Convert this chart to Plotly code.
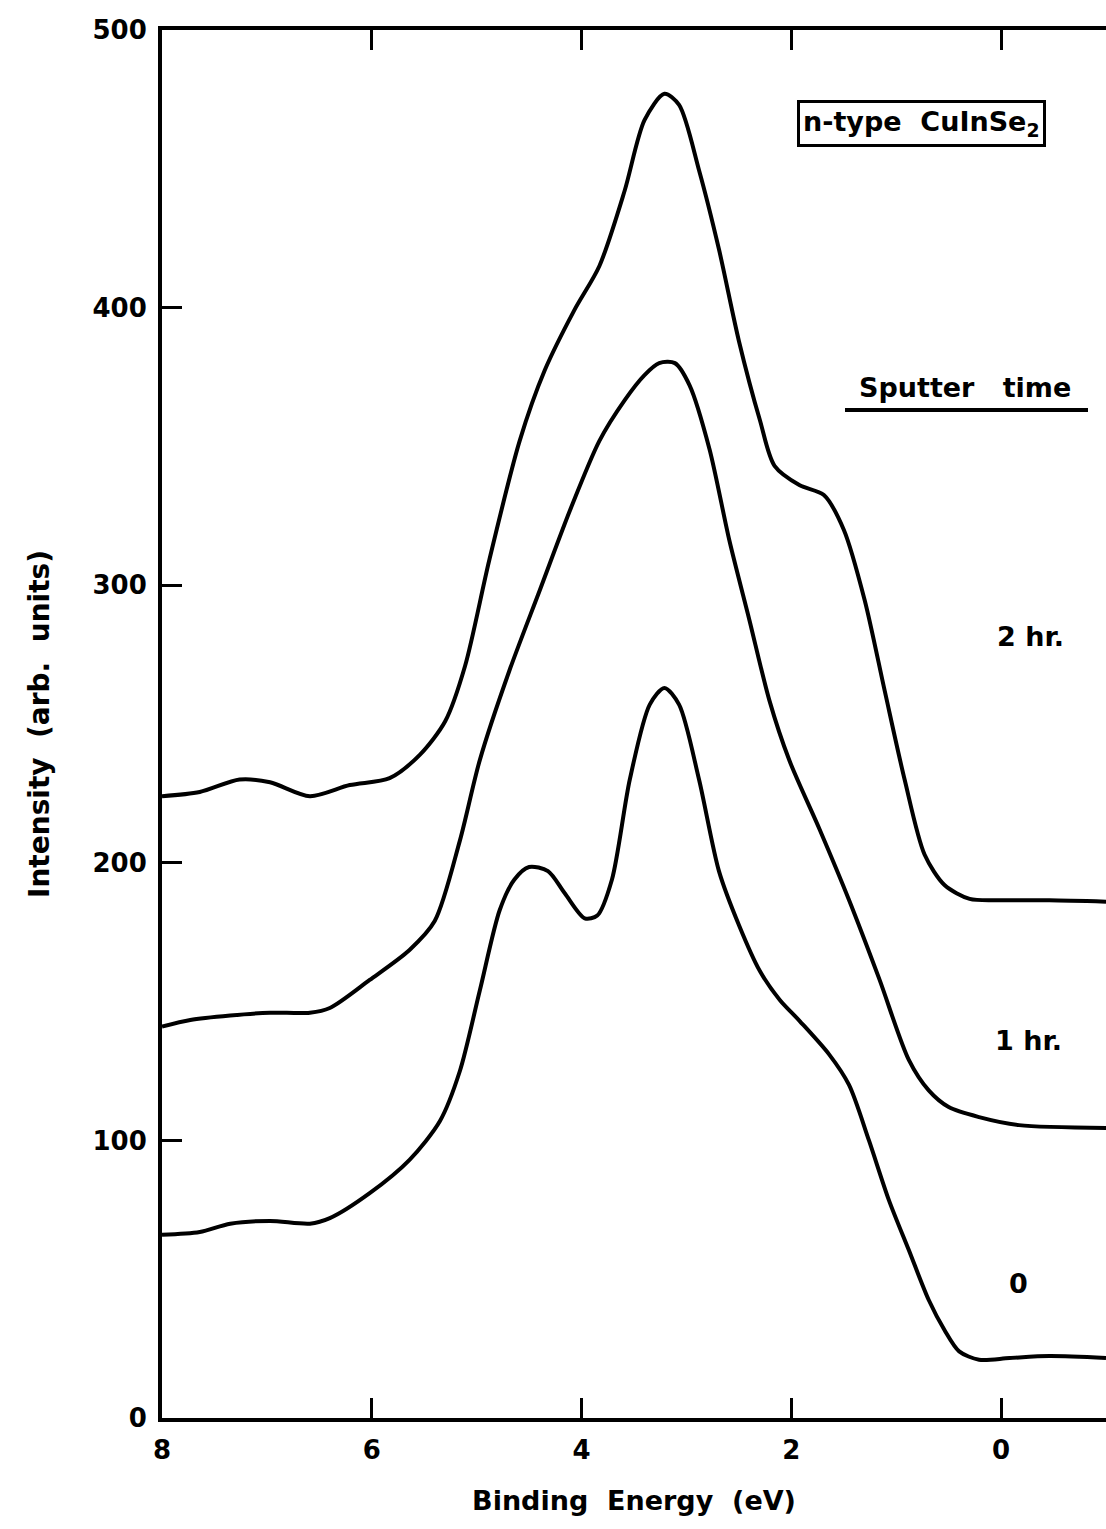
import plotly.graph_objects as go

# Binding energy (eV) and intensity (arb. units)
x_2hr = [8.0, 7.64, 7.26, 6.97, 6.59, 6.21, 5.83, 5.54, 5.30, 5.11, 4.88, 4.59, 4.35, 4.07, 3.83,
         3.59, 3.40, 3.21, 3.07, 2.88, 2.69, 2.50, 2.30, 2.16, 1.92, 1.69, 1.50, 1.30, 1.11, 0.92,
         0.73, 0.54, 0.30, 0.02, -0.46, -1.0]
y_2hr = [224, 225.5, 230, 229, 224, 228, 230.5, 239, 251, 271, 309, 352, 377.5, 399, 415,
         442, 467.5, 477, 473, 449.5, 421, 388, 359.5, 343, 336, 332.5, 320, 294.5, 262, 230,
         203, 192, 187, 186.5, 186.5, 186]

x_1hr = [8.0, 7.73, 7.35, 6.97, 6.59, 6.40, 6.02, 5.64, 5.40, 5.16, 4.97, 4.69, 4.40, 4.11, 3.83,
         3.59, 3.40, 3.26, 3.11, 2.97, 2.78, 2.59, 2.40, 2.21, 2.02, 1.73, 1.45, 1.16, 0.88, 0.69,
         0.50, 0.21, -0.17, -1.0]
y_1hr = [141, 143.4, 145, 146, 146, 147.7, 157.8, 168.6, 179, 208, 237, 269, 298, 327, 352,
         366.6, 375.7, 380, 380, 372, 349, 316, 287.5, 258.6, 237, 212, 186.6, 158, 129, 118,
         112, 108.4, 105.5, 104.5]

x_0 = [8.0, 7.64, 7.35, 6.97, 6.59, 6.40, 6.02, 5.64, 5.35, 5.16, 4.97, 4.78, 4.64, 4.50, 4.32,
       4.16, 3.97, 3.85, 3.71, 3.54, 3.35, 3.21, 3.07, 2.88, 2.69, 2.50, 2.30, 2.11, 1.92, 1.64,
       1.45, 1.26, 1.07, 0.88, 0.69, 0.54, 0.40, 0.21, -0.08, -0.46, -1.0]
y_0 = [66, 67, 70, 71, 70, 72, 81, 93, 107, 125, 154, 183, 194, 198.5, 197,
       189, 180, 181, 194, 230, 257, 263, 257, 230, 197, 177.6, 161, 150.6, 143, 131,
       120, 100, 78.5, 60.5, 42.5, 31.7, 24, 21, 21.6, 22.3, 21.6]

series = [("2 hr.", x_2hr, y_2hr), ("1 hr.", x_1hr, y_1hr), ("0", x_0, y_0)]

x_ticks = [8, 6, 4, 2, 0]
y_ticks = [0, 100, 200, 300, 400, 500]

FONT = "DejaVu Sans"
fig = go.Figure()
for name, xs, ys in series:
    fig.add_trace(go.Scatter(x=xs, y=ys, mode="lines", name=name,
                             line=dict(color="black", width=4, shape="spline", smoothing=0.8),
                             showlegend=False, hoverinfo="skip"))

fig.update_layout(
    width=1106, height=1529,
    margin=dict(l=162, r=0, t=30, b=111),
    paper_bgcolor="white", plot_bgcolor="white",
    font=dict(family=FONT, color="black"),
    xaxis=dict(range=[8, -1], tickvals=x_ticks, ticks="inside", ticklen=20, tickwidth=3,
               tickcolor="black", showline=True, linewidth=4, linecolor="black",
               mirror="ticks", showgrid=False, zeroline=False,
               tickfont=dict(size=26, family=FONT, weight="bold"), ticklabelstandoff=6,
               title=dict(text="Binding  Energy  (eV)", font=dict(size=27, family=FONT, weight="bold"),
                          standoff=28)),
    yaxis=dict(range=[0, 500], tickvals=y_ticks, ticks="inside", ticklen=20, tickwidth=3,
               tickcolor="black", showline=True, linewidth=4, linecolor="black",
               mirror=False, showgrid=False, zeroline=False,
               tickfont=dict(size=26, family=FONT, weight="bold"), ticklabelstandoff=6,
               title=dict(text="Intensity  (arb.  units)", font=dict(size=28, family=FONT, weight="bold"),
                          standoff=36)),
    yaxis2=dict(range=[0, 500], overlaying="y", side="right", anchor="x",
                tickvals=[100, 200, 300, 400], ticks="inside", ticklen=16, tickwidth=4,
                tickcolor="black", showline=False, showgrid=False, zeroline=False,
                showticklabels=False),
)

ann_font = dict(size=27, family=FONT, color="black", weight="bold")


def px2paper(px, py):
    return (px - 162) / 944, (1418 - py) / 1388


bx, by = px2paper(921, 124)
fig.add_annotation(x=bx, y=by, xref="paper", yref="paper", xanchor="center", yanchor="middle",
                   showarrow=False, text="n-type  CuInSe<sub>2</sub>", font=ann_font,
                   bordercolor="black", borderwidth=3, borderpad=3, bgcolor="white")
sx, sy = px2paper(965, 387)
fig.add_annotation(x=sx, y=sy, xref="paper", yref="paper", xanchor="center", yanchor="middle",
                   showarrow=False, text="Sputter   time", font=ann_font)
ux0, uy = px2paper(845, 410)
ux1, _ = px2paper(1088, 410)
fig.add_shape(type="line", xref="paper", yref="paper", x0=ux0, x1=ux1, y0=uy, y1=uy,
              line=dict(color="black", width=4))
for txt, px, py in [("2 hr.", 1030, 637), ("1 hr.", 1028, 1040), ("0", 1018, 1283)]:
    ax, ay = px2paper(px, py)
    fig.add_annotation(x=ax, y=ay, xref="paper", yref="paper", xanchor="center", yanchor="middle",
                       showarrow=False, text=txt, font=ann_font)

fig.write_html("out.html")
